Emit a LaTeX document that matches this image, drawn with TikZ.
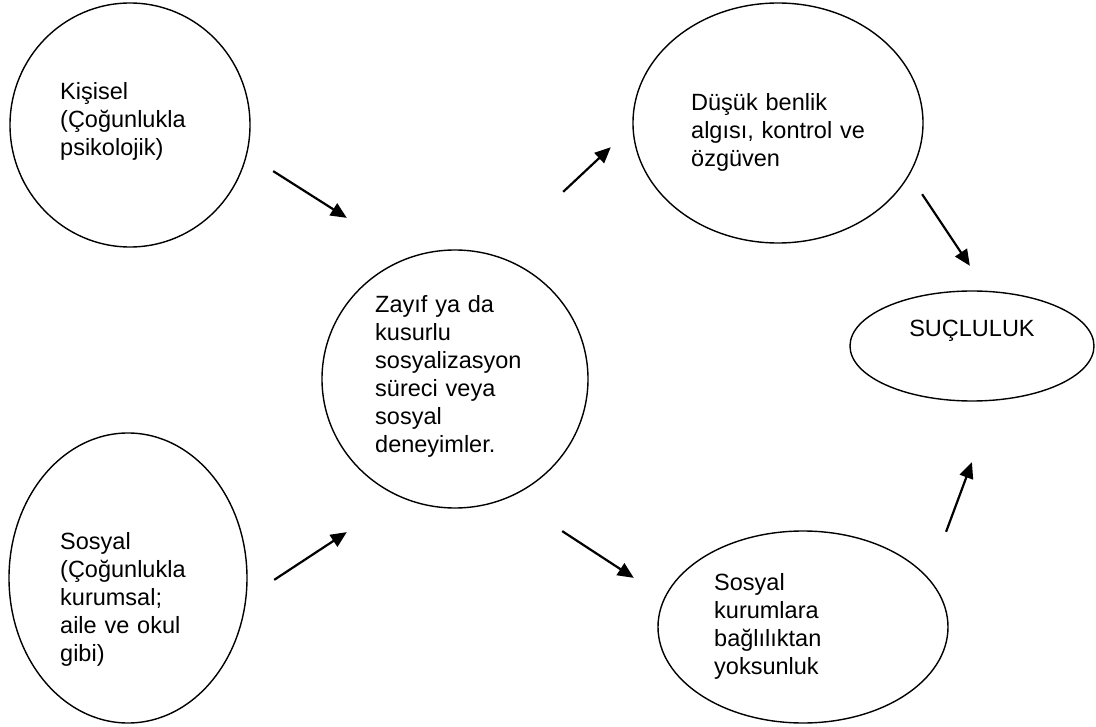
\documentclass[tikz,border=0pt]{standalone}
\usepackage{fontspec}
\setmainfont{Liberation Sans}
\usetikzlibrary{shapes.geometric,arrows.meta}
\tikzset{empty/.style={draw=none, fill=none, minimum size=0mm, inner sep=0mm}}
\tikzset{oval/.style={draw, ellipse, line width=1.4pt, inner sep=0mm}}
\tikzset{txt/.style={align=left, text width=7cm, inner sep=0mm, anchor=base west}}
\tikzset{arr/.style={line width=2.2pt, -{Triangle[length=16pt, width=14pt]}}}

\begin{document}
\begin{tikzpicture}[x=1pt, y=-1pt, font=\fontsize{23.5}{28}\selectfont]
    \useasboundingbox (0,0) rectangle (1096,727);

    \node (kis) at (130,125) [oval, minimum width=240pt, minimum height=244pt] {};
    \node (kist) at (60,100) [txt] {Kişisel\\(Çoğunlukla\\psikolojik)};

    \node (sos) at (128,578) [oval, minimum width=238pt, minimum height=290pt] {};
    \node (sost) at (60,549) [txt] {Sosyal\\(Çoğunlukla\\kurumsal;\\aile ve okul\\gibi)};

    \node (sur) at (455,379) [oval, minimum width=266pt, minimum height=258pt] {};
    \node (surt) at (375,313) [txt] {Zayıf ya da\\kusurlu\\sosyalizasyon\\süreci veya\\sosyal\\deneyimler.};

    \node (ben) at (778,123) [oval, minimum width=290pt, minimum height=240pt] {};
    \node (bent) at (691,111) [txt] {Düşük benlik\\algısı, kontrol ve\\özgüven};

    \node (bag) at (803,627) [oval, minimum width=290pt, minimum height=192pt] {};
    \node (bagt) at (714,590) [txt] {Sosyal\\kurumlara\\bağlılıktan\\yoksunluk};

    \node (suc) at (972,346) [oval, minimum width=244pt, minimum height=110pt] {};
    \node (suct) at (972,337) [anchor=base, inner sep=0mm] {SUÇLULUK};

    % arrow ends
    \node (s1) [empty] at (273,171) {};
    \node (e1) [empty] at (347,218) {};
    \node (s2) [empty] at (563,192) {};
    \node (e2) [empty] at (611,147) {};
    \node (s3) [empty] at (274,580) {};
    \node (e3) [empty] at (347,532) {};
    \node (s4) [empty] at (562,531) {};
    \node (e4) [empty] at (634,578) {};
    \node (s5) [empty] at (922,194) {};
    \node (e5) [empty] at (970,266) {};
    \node (s6) [empty] at (946,532) {};
    \node (e6) [empty] at (972,462) {};

    \draw (s1) edge[arr] (e1);
    \draw (s2) edge[arr] (e2);
    \draw (s3) edge[arr] (e3);
    \draw (s4) edge[arr] (e4);
    \draw (s5) edge[arr] (e5);
    \draw (s6) edge[arr] (e6);
\end{tikzpicture}
\end{document}
